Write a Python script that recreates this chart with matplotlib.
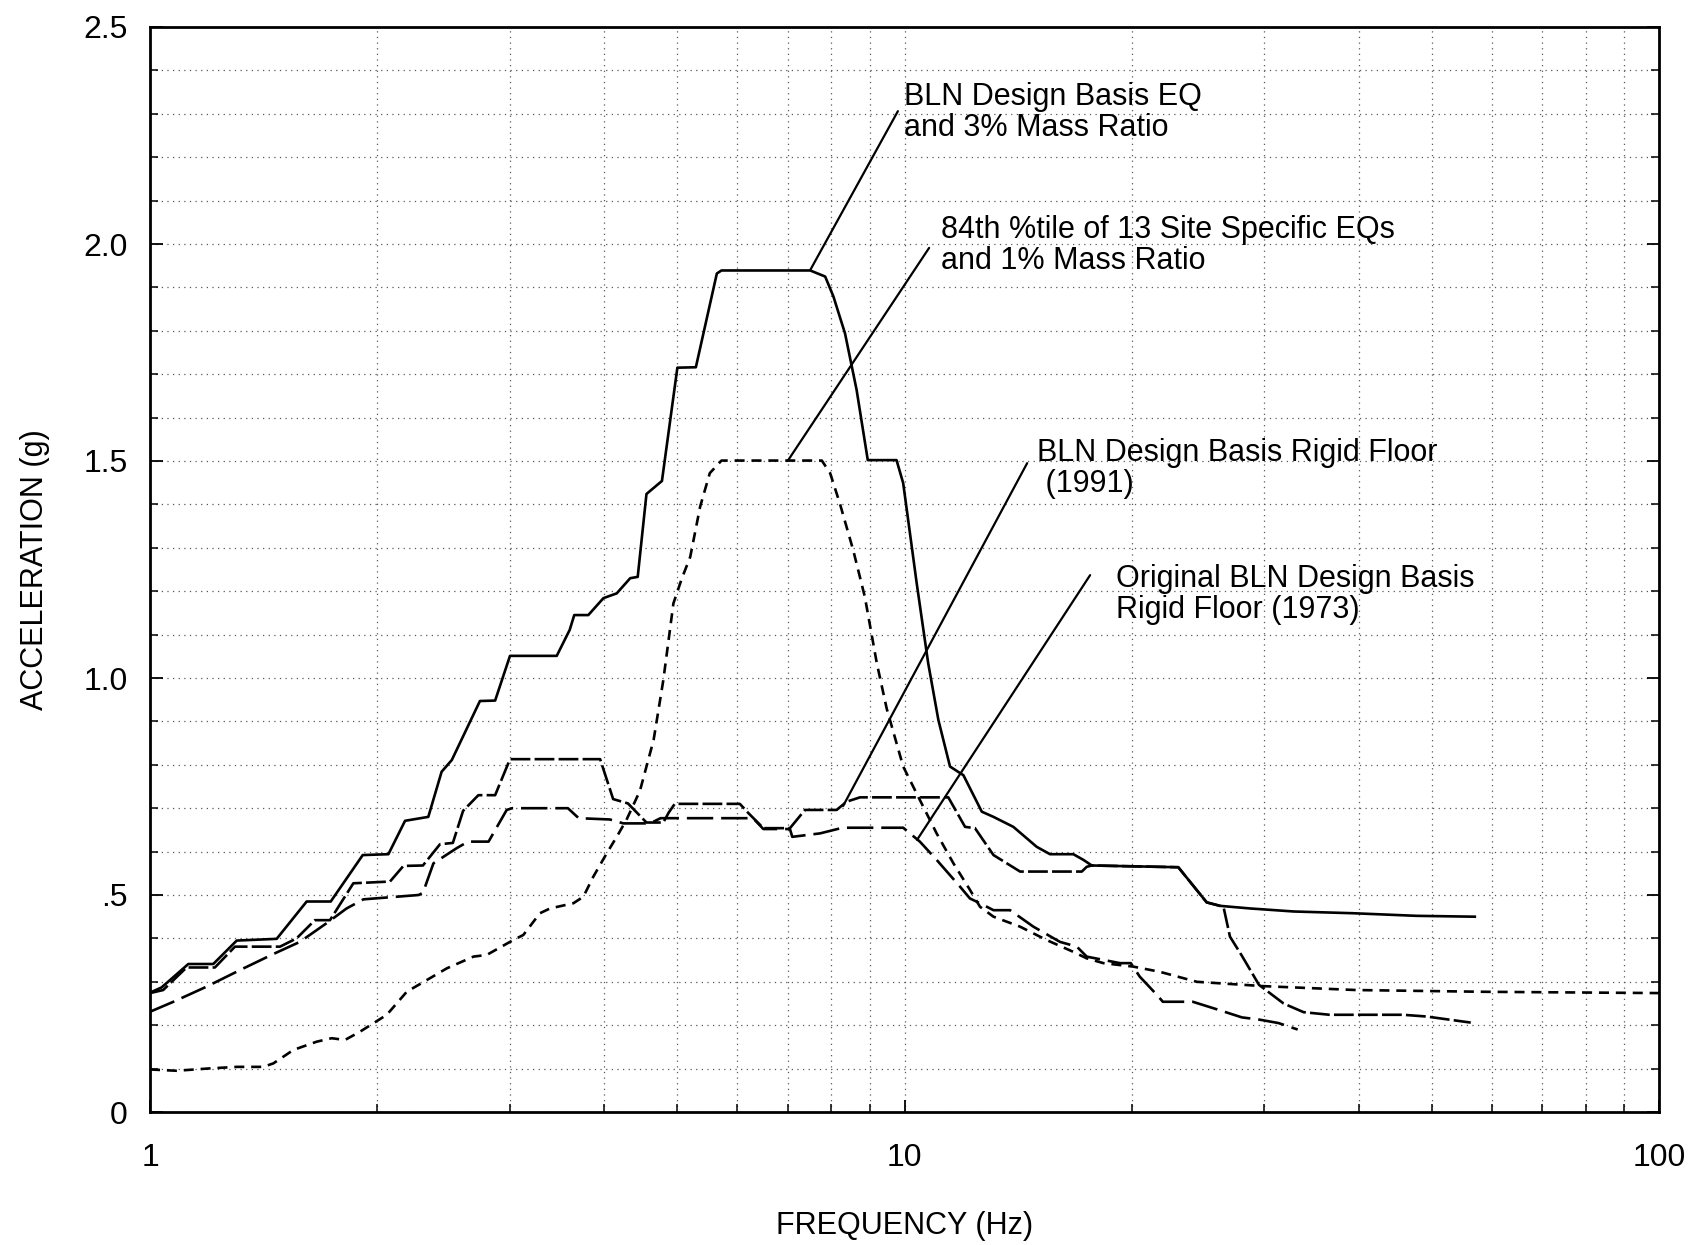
import matplotlib
matplotlib.use('Agg')
import matplotlib.pyplot as plt
from matplotlib import font_manager
from matplotlib.ticker import FixedLocator, FixedFormatter, NullFormatter, LogLocator

# BLN Design Basis EQ and 3% Mass Ratio (solid)
f_eq = [1.0, 1.036, 1.124, 1.213, 1.303, 1.472, 1.613, 1.736, 1.914, 2.07, 2.178, 2.338, 2.435, 2.512,
        2.737, 2.867, 3.0, 3.46, 3.60, 3.65, 3.81, 3.99, 4.155, 4.33, 4.43, 4.55, 4.77, 5.0, 5.29, 5.64,
        5.72, 7.50, 7.85, 8.05, 8.34, 8.64, 8.94, 9.76, 9.96, 10.38, 10.75, 11.09, 11.49, 11.97, 12.66,
        13.12, 13.94, 14.97, 15.59, 16.74, 17.26, 17.71, 23.06, 25.15, 26.19, 28.7, 32.8, 39.3, 47.7, 57.0]
a_eq = [0.275, 0.287, 0.341, 0.341, 0.395, 0.399, 0.485, 0.485, 0.592, 0.594, 0.671, 0.680, 0.784, 0.811,
        0.947, 0.948, 1.051, 1.051, 1.111, 1.145, 1.145, 1.184, 1.195, 1.23, 1.233, 1.424, 1.454, 1.715, 1.716, 1.932,
        1.939, 1.939, 1.925, 1.879, 1.794, 1.664, 1.502, 1.502, 1.449, 1.218, 1.034, 0.903, 0.796, 0.776, 0.692,
        0.680, 0.657, 0.611, 0.594, 0.594, 0.581, 0.568, 0.564, 0.483, 0.475, 0.469, 0.462, 0.458, 0.452, 0.450]

# 84th %tile of 13 site specific EQs and 1% mass ratio (short dash)
f_sse = [1.0, 1.085, 1.189, 1.303, 1.413, 1.457, 1.549, 1.663, 1.741, 1.813, 1.898, 2.06, 2.189, 2.474, 2.683,
         2.795, 3.0, 3.125, 3.287, 3.39, 3.64, 3.753, 3.868, 4.03, 4.155, 4.28, 4.46, 4.65, 4.79, 4.94, 5.07, 5.20,
         5.36, 5.52, 5.72, 7.77, 7.97, 8.21, 8.55, 8.86, 9.19, 9.47, 9.96, 10.48, 11.03, 11.61, 12.21, 12.59, 13.12,
         14.23, 15.44, 16.74, 17.44, 18.35, 20.1, 21.8, 24.4, 29.9, 39.7, 58.5, 100.0]
a_sse = [0.098, 0.095, 0.100, 0.104, 0.104, 0.112, 0.143, 0.162, 0.170, 0.166, 0.185, 0.224, 0.277, 0.331, 0.358,
         0.362, 0.392, 0.408, 0.458, 0.469, 0.481, 0.496, 0.542, 0.596, 0.634, 0.673, 0.740, 0.857, 0.995, 1.172,
         1.230, 1.279, 1.395, 1.472, 1.501, 1.501, 1.472, 1.402, 1.295, 1.187, 1.034, 0.93, 0.796, 0.719, 0.642,
         0.573, 0.512, 0.473, 0.450, 0.427, 0.396, 0.369, 0.354, 0.343, 0.335, 0.323, 0.300, 0.290, 0.281, 0.277, 0.274]

# BLN Design Basis Rigid Floor (1991)
f_91 = [1.0, 1.041, 1.118, 1.219, 1.296, 1.487, 1.564, 1.654, 1.732, 1.86, 2.08, 2.167, 2.30, 2.423, 2.52, 2.60,
        2.724, 2.867, 3.0, 3.95, 4.11, 4.30, 4.55, 4.79, 4.87, 4.96, 6.05, 6.20, 6.50, 7.05, 7.38, 8.13, 8.38, 8.73,
        11.43, 12.03, 12.40, 13.12, 14.23, 17.18, 17.44, 17.71, 23.06, 25.15, 26.19, 26.5, 27.0, 28.0, 29.5, 31.8,
        33.8, 36.6, 45.8, 49.2, 56.3]
a_91 = [0.274, 0.281, 0.333, 0.333, 0.381, 0.381, 0.400, 0.442, 0.442, 0.527, 0.531, 0.567, 0.568, 0.617, 0.620,
        0.694, 0.730, 0.730, 0.813, 0.813, 0.721, 0.711, 0.667, 0.667, 0.69, 0.710, 0.710, 0.69, 0.654, 0.654, 0.696,
        0.696, 0.715, 0.725, 0.725, 0.657, 0.654, 0.592, 0.554, 0.554, 0.565, 0.568, 0.564, 0.483, 0.475, 0.469,
        0.404, 0.36, 0.293, 0.250, 0.230, 0.224, 0.224, 0.220, 0.206]

# Original BLN Design Basis Rigid Floor (1973)
f_73 = [1.0, 1.074, 1.189, 1.316, 1.457, 1.58, 1.714, 1.822, 1.918, 2.27, 2.30, 2.375, 2.55, 2.64, 2.81, 2.97,
        3.02, 3.58, 3.70, 4.07, 4.24, 4.60, 4.75, 6.30, 6.50, 7.05, 7.10, 7.73, 8.28, 9.96, 10.48, 11.03, 11.85,
        12.21, 12.59, 13.12, 13.8, 14.82, 16.07, 16.92, 17.44, 19.3, 19.95, 20.5, 21.6, 22.0, 24.1, 25.9, 28.0,
        29.5, 31.3, 33.2]
a_73 = [0.231, 0.254, 0.289, 0.327, 0.364, 0.392, 0.435, 0.469, 0.490, 0.500, 0.505, 0.573, 0.608, 0.623, 0.623,
        0.696, 0.700, 0.700, 0.677, 0.674, 0.665, 0.665, 0.677, 0.677, 0.652, 0.652, 0.634, 0.642, 0.655, 0.655,
        0.623, 0.581, 0.519, 0.492, 0.481, 0.465, 0.465, 0.427, 0.392, 0.381, 0.358, 0.343, 0.343, 0.312, 0.270,
        0.254, 0.254, 0.237, 0.218, 0.213, 0.205, 0.190]

y_ticks = [0, 0.5, 1.0, 1.5, 2.0, 2.5]
y_ticklabels = ['0', '.5', '1.0', '1.5', '2.0', '2.5']
x_ticks = [1, 10, 100]
x_ticklabels = ['1', '10', '100']

# callouts: text, text anchor (f, g), leader start, leader end
labels = [
    ('BLN Design Basis EQ\nand 3% Mass Ratio', (9.97, 2.303), (9.80, 2.306), (7.5, 1.94)),
    ('84th %tile of 13 Site Specific EQs\nand 1% Mass Ratio', (11.18, 1.997), (10.78, 1.991), (7.0, 1.50)),
    ('BLN Design Basis Rigid Floor\n (1991)', (14.98, 1.483), (14.54, 1.495), (8.29, 0.705)),
    ('Original BLN Design Basis\nRigid Floor (1973)', (19.07, 1.192), (17.62, 1.237), (10.39, 0.627)),
]

names = {f.name for f in font_manager.fontManager.ttflist}
fam = 'Liberation Sans Narrow' if 'Liberation Sans Narrow' in names else 'Liberation Sans'
plt.rcParams['font.family'] = [fam, 'DejaVu Sans']

fig = plt.figure(figsize=(16.89, 12.45), dpi=100)
ax = fig.add_axes([150/1689, 133/1245, 1509/1689, 1085/1245])

ax.set_xscale('log')
ax.set_xlim(1, 100)
ax.set_ylim(0, 2.5)

# dotted grid
gkw = dict(color='0.35', lw=0.9, ls=(0, (1, 3.5)))
ax.grid(True, which='both', axis='x', **gkw)
ax.set_yticks([i/10 for i in range(26)], minor=True)
ax.grid(True, which='both', axis='y', **gkw)
ax.set_axisbelow(True)

lw = 1.9
ax.plot(f_eq, a_eq, color='black', lw=lw, solid_joinstyle='round')
ax.plot(f_sse, a_sse, color='black', lw=lw, dashes=(3.8, 2.6))
ax.plot(f_91, a_91, color='black', lw=lw, dashes=(7.5, 1.6))
ax.plot(f_73, a_73, color='black', lw=lw, dashes=(10, 3))

for txt, pos, start, end in labels:
    ax.annotate('', xy=end, xytext=start,
                arrowprops=dict(arrowstyle='-', lw=1.6, color='black', shrinkA=0, shrinkB=0))
    ax.text(pos[0], pos[1], txt, fontsize=22, va='center', ha='left', linespacing=1.05)

ax.yaxis.set_major_locator(FixedLocator(y_ticks))
ax.yaxis.set_major_formatter(FixedFormatter(y_ticklabels))
ax.xaxis.set_major_locator(FixedLocator(x_ticks))
ax.xaxis.set_major_formatter(FixedFormatter(x_ticklabels))
ax.xaxis.set_minor_locator(LogLocator(base=10, subs=range(2, 10)))
ax.xaxis.set_minor_formatter(NullFormatter())

ax.tick_params(which='both', direction='in', right=True, labelsize=23)
ax.tick_params(which='major', length=9, width=1.3)
ax.tick_params(which='minor', length=6, width=1.1)
ax.tick_params(axis='x', pad=22)
ax.tick_params(axis='y', pad=16)

for s in ax.spines.values():
    s.set_linewidth(2.0)

ax.set_xlabel('FREQUENCY (Hz)', fontsize=22, labelpad=28)
ax.set_ylabel('ACCELERATION (g)', fontsize=22, labelpad=24)

fig.savefig('out.png', dpi=100)
